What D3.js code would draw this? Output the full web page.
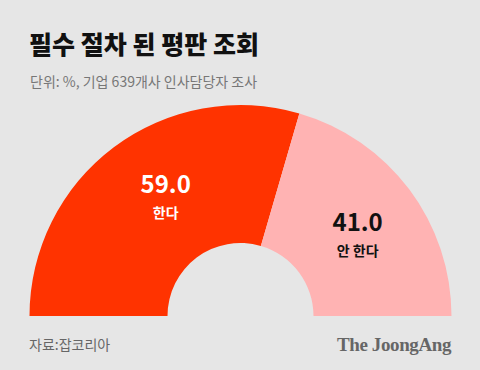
<!DOCTYPE html>
<html>
<head>
<meta charset="utf-8">
<script src="https://cdn.jsdelivr.net/npm/d3@7"></script>
<style>
  body { margin: 0; background: #e6e6e6; }
  svg { display: block; }
</style>
</head>
<body>
<svg id="chart" width="480" height="370"></svg>
<script>
var categories = ["한다", "안 한다"];
var values = [59.0, 41.0];
var colors = ["#ff3300", "#ffb3b3"];
var textColors = ["#ffffff", "#111111"];

var svg = d3.select("#chart");
var W = 480, H = 370;

svg.append("rect").attr("width", W).attr("height", H).attr("fill", "#e6e6e6");

var font = "'Noto Sans CJK KR', 'Noto Sans', sans-serif";

// title + subtitle
svg.append("text")
  .attr("x", 29).attr("y", 54)
  .attr("font-family", font).attr("font-weight", 900)
  .attr("font-size", 25).attr("fill", "#111")
  .text("필수 절차 된 평판 조회");

svg.append("text")
  .attr("x", 30).attr("y", 87)
  .attr("font-family", font).attr("font-size", 14)
  .attr("fill", "#777")
  .text("단위: %, 기업 639개사 인사담당자 조사");

// half donut
var cx = 240.5, cy = 316,
    outerR = 211, innerR = 73;

var pie = d3.pie()
  .sort(null)
  .startAngle(-Math.PI / 2)
  .endAngle(Math.PI / 2)
  .value(function(d){ return d; });

var arc = d3.arc().innerRadius(innerR).outerRadius(outerR);
var labelArc = d3.arc().innerRadius(147).outerRadius(147);

var g = svg.append("g").attr("transform", "translate(" + cx + "," + cy + ")");
var arcs = pie(values);

g.selectAll("path.slice")
  .data(arcs)
  .enter().append("path")
    .attr("class", "slice")
    .attr("d", arc)
    .attr("fill", function(d, i){ return colors[i]; });

// labels sit a bit off the true centroid in the original
var angleShift = [0.11, -0.005];
var lab = g.selectAll("g.lab")
  .data(arcs)
  .enter().append("g")
    .attr("class", "lab")
    .attr("transform", function(d, i){
      var a = (d.startAngle + d.endAngle) / 2 + angleShift[i];
      var c = labelArc.centroid({startAngle: a, endAngle: a});
      return "translate(" + c[0] + "," + c[1] + ")";
    });

lab.append("text")
  .attr("text-anchor", "middle")
  .attr("y", 4)
  .attr("font-family", font).attr("font-weight", 700)
  .attr("font-size", 24)
  .attr("fill", function(d, i){ return textColors[i]; })
  .text(function(d){ return d3.format(".1f")(d.data); });

lab.append("text")
  .attr("text-anchor", "middle")
  .attr("y", 29)
  .attr("font-family", font).attr("font-weight", 700)
  .attr("font-size", 14)
  .attr("fill", function(d, i){ return textColors[i]; })
  .text(function(d, i){ return categories[i]; });

// footer
svg.append("text")
  .attr("x", 29).attr("y", 350)
  .attr("font-family", font).attr("font-size", 14)
  .attr("fill", "#666")
  .text("자료:잡코리아");

svg.append("text")
  .attr("x", 451).attr("y", 351)
  .attr("text-anchor", "end")
  .attr("font-family", "'Liberation Serif', 'DejaVu Serif', serif")
  .attr("font-weight", 700).attr("font-size", 19)
  .attr("letter-spacing", -0.4)
  .attr("fill", "#666")
  .text("The JoongAng");
</script>
</body>
</html>
